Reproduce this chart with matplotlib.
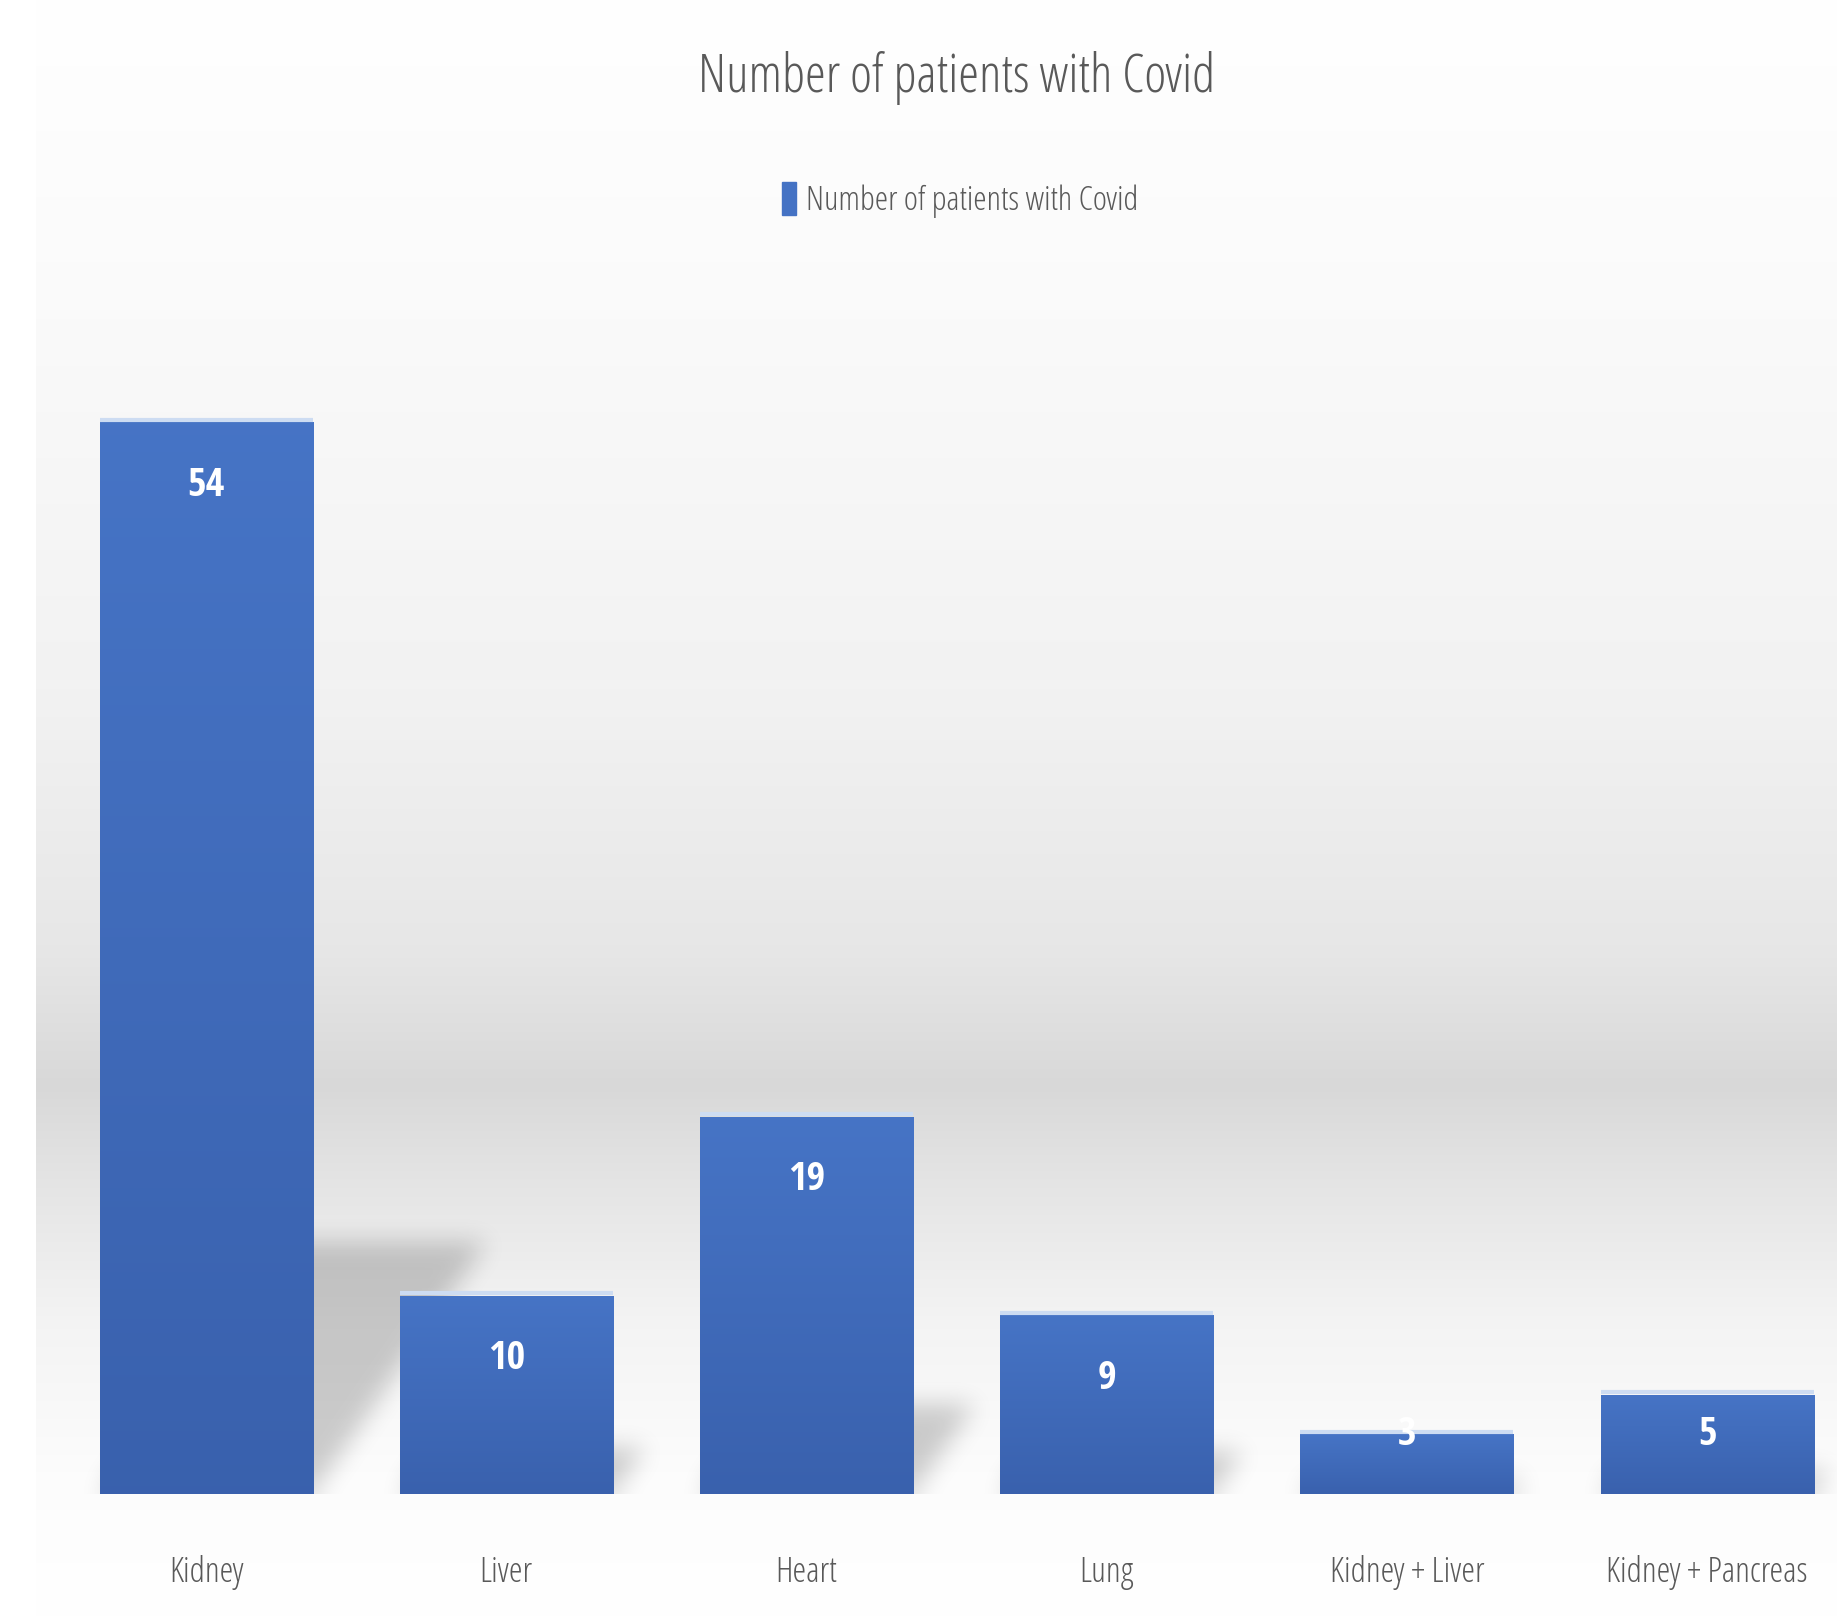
"""Bar chart: number of transplant patients with Covid, by organ."""

import numpy as np
import matplotlib
matplotlib.use("Agg")
import matplotlib.pyplot as plt
from matplotlib.path import Path as MplPath

# --- data ---------------------------------------------------------------------
organs = ["Kidney", "Liver", "Heart", "Lung", "Kidney + Liver", "Kidney + Pancreas"]
patients = [54, 10, 19, 9, 3, 5]
series_name = "Number of patients with Covid"
title = "Number of patients with Covid"

# --- style --------------------------------------------------------------------
W, H, DPI = 1837, 1616, 100
FONT_LIGHT = ["Open Sans", "DejaVu Sans"]            # used with condensed stretch
FONT_BOLD = ["Open Sans Condensed", "DejaVu Sans"]
TEXT_GREY = "#595959"
BAR_TOP = np.array([0.275, 0.455, 0.775])
BAR_BOT = np.array([0.225, 0.380, 0.680])
BAR_W = 0.71
SHADOW_DX, SHADOW_DY = 0.0107, 0.235   # perspective shadow shear per unit value
YMAX = 60

plt.rcParams["font.family"] = FONT_LIGHT
plt.rcParams["font.stretch"] = "condensed"
plt.rcParams["font.weight"] = 300

LIGHT = {"family": FONT_LIGHT, "stretch": "condensed", "weight": 300}


def blur(img, r, passes=3):
    """Cheap gaussian-ish blur: repeated box filter along both axes."""
    out = img.copy()
    k = 2 * r + 1
    for _ in range(passes):
        for axis in (0, 1):
            pad = [(0, 0), (0, 0)]
            pad[axis] = (r + 1, r)
            p = np.pad(out, pad, mode="edge")
            c = np.cumsum(p, axis=axis)
            if axis == 0:
                out = (c[k:] - c[:-k]) / k
            else:
                out = (c[:, k:] - c[:, :-k]) / k
    return out


def main() -> None:
    fig = plt.figure(figsize=(W / DPI, H / DPI), dpi=DPI)
    fig.patch.set_facecolor("white")

    # background gradient (chart area), figure pixel coordinates
    bg = fig.add_axes([0, 0, 1, 1], zorder=0)
    bg.set_xlim(0, W)
    bg.set_ylim(H, 0)
    bg.axis("off")
    stops_y = [0, 300, 700, 950, 1085, 1180, 1320, 1480, H]
    stops_v = [1.0, 0.982, 0.948, 0.905, 0.848, 0.895, 0.955, 0.99, 1.0]
    prof = np.interp(np.arange(H), stops_y, stops_v)
    grad = np.repeat(prof[:, None], 2, axis=1)
    bg.imshow(np.dstack([grad] * 3), extent=[36, W, H, 0], aspect="auto",
              interpolation="bilinear")

    # main axes: category slots -0.5..5.5, extends past right edge like the source
    left = 56 / W
    width = (300.2 * 6) / W
    bottom = (H - 1494) / H
    height = (19.85 * YMAX) / H
    ax = fig.add_axes([left, bottom, width, height], zorder=1)
    ax.set_facecolor("none")
    x = np.arange(len(organs))
    ax.set_xlim(-0.5, len(organs) - 0.5)
    ax.set_ylim(0, YMAX)

    # soft perspective shadows
    nx, ny = 1800, 1200
    gx = np.linspace(-0.5, len(organs) - 0.5, nx)
    gy = np.linspace(0, YMAX, ny)
    GX, GY = np.meshgrid(gx, gy)
    pts = np.column_stack([GX.ravel(), GY.ravel()])
    mask = np.zeros(GX.shape)
    for xi, v in zip(x, patients):
        xl, xr = xi - BAR_W / 2, xi + BAR_W / 2
        poly = MplPath([(xl, 0), (xr, 0), (xr + SHADOW_DX * v, SHADOW_DY * v),
                        (xl + SHADOW_DX * v, SHADOW_DY * v)])
        mask = np.maximum(mask, poly.contains_points(pts).reshape(GX.shape))
    mask = blur(mask, 11)
    shadow = np.zeros((ny, nx, 4))
    shadow[..., 3] = 0.19 * mask
    ax.imshow(shadow, extent=[gx[0], gx[-1], 0, YMAX], origin="lower",
              aspect="auto", zorder=1, interpolation="bilinear")

    # bars with vertical gradient
    bars = ax.bar(x, patients, width=BAR_W, color=BAR_TOP, zorder=2, linewidth=0)
    t = np.linspace(0, 1, 256)[:, None]
    col = BAR_BOT[None, :] * (1 - t) + BAR_TOP[None, :] * t
    gimg = np.repeat(col[:, None, :], 2, axis=1)
    for b in bars:
        x0, y0 = b.get_x(), b.get_y()
        im = ax.imshow(gimg, extent=[x0, x0 + b.get_width(), y0, y0 + b.get_height()],
                       origin="lower", aspect="auto", zorder=3, interpolation="bilinear")
        im.set_clip_path(b)
        ax.plot([x0, x0 + b.get_width()], [b.get_height() + 0.12] * 2,
                color="#cddcf2", lw=3, zorder=3, solid_capstyle="butt")

    # value labels (inside end)
    for xi, v in zip(x, patients):
        ax.text(xi, max(v - 3.2, 2.95), str(v), ha="center", va="center",
                color="white", fontsize=29, family=FONT_BOLD, fontweight="bold",
                fontstretch="condensed", zorder=4)

    ax.set_xticks(x)
    ax.set_xticklabels(organs, fontsize=25, color=TEXT_GREY, **LIGHT)
    ax.set_yticks([])
    ax.tick_params(axis="x", length=0, pad=44)
    for s in ax.spines.values():
        s.set_visible(False)

    # title and legend
    fig.text(957 / W, 1 - 92 / H, title, ha="center", va="baseline",
             fontsize=38, color=TEXT_GREY, zorder=5, **LIGHT)
    handle = plt.Rectangle((0, 0), 1, 1, color="#4472c4")
    fig.legend([handle], [series_name], loc="center", bbox_to_anchor=(960 / W, 1 - 200 / H),
               frameon=False, handlelength=0.42, handleheight=1.1, handletextpad=0.3,
               labelcolor=TEXT_GREY, prop={"family": FONT_LIGHT, "size": 24.5,
                                           "weight": 300, "stretch": "condensed"})

    fig.savefig("out.png", dpi=DPI)


if __name__ == "__main__":
    main()
